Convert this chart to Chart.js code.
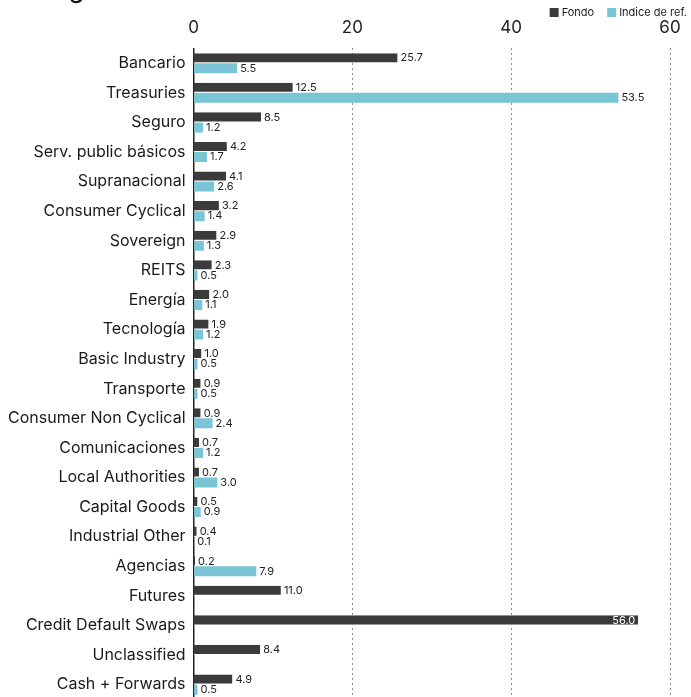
<!DOCTYPE html>
<html>
<head>
<meta charset="utf-8">
<script src="https://cdn.jsdelivr.net/npm/chart.js@4.4.1/dist/chart.umd.min.js"></script>
<style>
    html, body { margin: 0; padding: 0; background: #fff; overflow: hidden; }
    #wrap { position: relative; width: 691px; height: 717px; }
    #title {
        position: absolute; left: 38px; top: -26px;
        font-family: Inter, sans-serif; font-size: 25px; font-weight: 500; color: #111;
        white-space: nowrap;
    }
</style>
</head>
<body>
<div id="wrap">
    <div id="title">Segmentación (%)</div>
    <canvas id="sectorChart"></canvas>
</div>
<script>
const categories = [
    "Bancario", "Treasuries", "Seguro", "Serv. public básicos", "Supranacional",
    "Consumer Cyclical", "Sovereign", "REITS", "Energía", "Tecnología",
    "Basic Industry", "Transporte", "Consumer Non Cyclical", "Comunicaciones",
    "Local Authorities", "Capital Goods", "Industrial Other", "Agencias",
    "Futures", "Credit Default Swaps", "Unclassified", "Cash + Forwards"
];
const fondo = [25.7, 12.5, 8.5, 4.2, 4.1, 3.2, 2.9, 2.3, 2.0, 1.9, 1.0, 0.9, 0.9, 0.7, 0.7, 0.5, 0.4, 0.2, 11.0, 56.0, 8.4, 4.9];
const indice = [5.5, 53.5, 1.2, 1.7, 2.6, 1.4, 1.3, 0.5, 1.1, 1.2, 0.5, 0.5, 2.4, 1.2, 3.0, 0.9, 0.1, 7.9, null, null, null, 0.5];
const xTicks = [0, 20, 40, 60];

const FONT = "Inter, 'Noto Sans', sans-serif";

// Draw the value next to each bar (inside in white when the bar is very long)
const valueLabels = {
    id: "valueLabels",
    afterDatasetsDraw(chart) {
        const ctx = chart.ctx;
        ctx.save();
        ctx.font = "11px " + FONT;
        ctx.textBaseline = "middle";
        chart.data.datasets.forEach((ds, i) => {
            const meta = chart.getDatasetMeta(i);
            meta.data.forEach((bar, j) => {
                const v = ds.data[j];
                if (v === null || v === undefined) return;
                const txt = v.toFixed(1);
                if (v >= 55) {
                    ctx.fillStyle = "#ffffff";
                    ctx.textAlign = "right";
                    ctx.fillText(txt, bar.x - 3, bar.y);
                } else {
                    ctx.fillStyle = "#222";
                    ctx.textAlign = "left";
                    ctx.fillText(txt, bar.x + 3, bar.y);
                }
            });
        });
        ctx.restore();
    }
};

// Small legend in the top right corner
const cornerLegend = {
    id: "cornerLegend",
    afterDraw(chart) {
        const ctx = chart.ctx;
        const right = chart.width - 4;
        ctx.save();
        ctx.font = "11px " + FONT;
        ctx.textBaseline = "middle";
        ctx.textAlign = "left";
        const items = chart.data.datasets.map(ds => ({ text: ds.label, color: ds.backgroundColor }));
        let widths = items.map(it => 9 + 3 + ctx.measureText(it.text).width);
        let x = right - widths.reduce((a, b) => a + b, 0) - 13 * (items.length - 1);
        items.forEach((it, k) => {
            ctx.fillStyle = it.color;
            ctx.fillRect(x, 8, 9, 9);
            ctx.fillStyle = "#222";
            ctx.fillText(it.text, x + 12, 12.5);
            x += widths[k] + 13;
        });
        ctx.restore();
    }
};

const ctx = document.getElementById("sectorChart").getContext("2d");
new Chart(ctx, {
    type: "bar",
    data: {
        labels: categories,
        datasets: [
            { label: "Fondo", data: fondo, backgroundColor: "#3b3b3b", borderColor: "#ffffff", borderWidth: { bottom: 1 } },
            { label: "Indice de ref.", data: indice, backgroundColor: "#79c5d5", borderWidth: 0 }
        ]
    },
    options: {
        indexAxis: "y",
        responsive: true,
        maintainAspectRatio: false,
        animation: false,
        categoryPercentage: 0.68,
        barPercentage: 1.0,
        layout: { padding: { left: 0, right: 21, top: 8, bottom: 0 } },
        plugins: {
            legend: { display: false },
            tooltip: { enabled: false }
        },
        scales: {
            x: {
                position: "top",
                min: 0, max: 60,
                afterBuildTicks: (axis) => { axis.ticks = xTicks.map(v => ({ value: v })); },
                ticks: { color: "#222", font: { family: FONT, size: 17 }, padding: 10 },
                grid: {
                    drawTicks: false,
                    color: (c) => c.tick && c.tick.value === 0 ? "rgba(0,0,0,0)" : "#8a8a8a",
                    lineWidth: 1
                },
                border: { display: false, dash: [2, 3] }
            },
            y: {
                ticks: { color: "#1a1a1a", font: { family: FONT, size: 16 }, padding: 8, autoSkip: false },
                grid: { display: false, drawTicks: false },
                border: { display: true, color: "#222", width: 1.5 }
            }
        }
    },
    plugins: [valueLabels, cornerLegend]
});
</script>
</body>
</html>
